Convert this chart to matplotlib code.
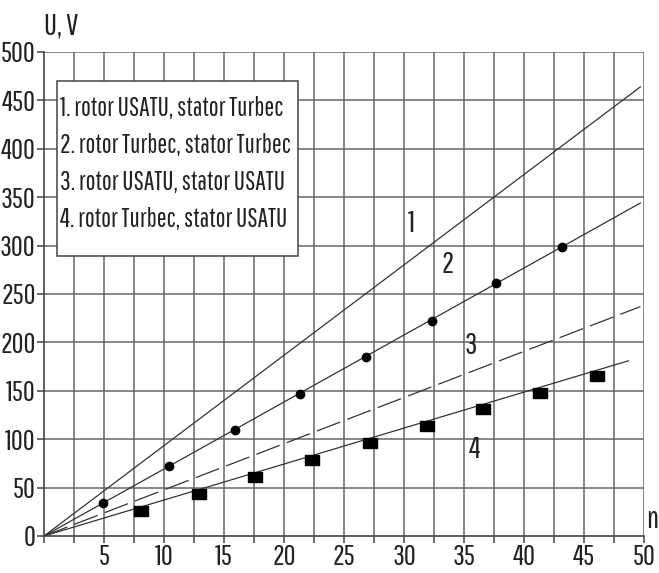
import matplotlib
matplotlib.use("Agg")
import matplotlib.pyplot as plt
from matplotlib.patches import Rectangle
import numpy as np

plt.rcParams['font.family'] = ['Pathway Gothic One', 'Roboto Condensed', 'DejaVu Sans']

# fitted lines (start, end)
line_n = [[0, 49.7], [0, 49.7], [0, 49.7], [0, 48.7]]
line_U = [[0, 464], [0, 344], [0, 237], [0, 181]]
line_names = ["1", "2", "3", "4"]
label_pos = [(30.6, 323), (33.6, 280), (35.6, 197), (35.9, 89)]

# measured points
n2 = [4.9, 10.4, 15.9, 21.3, 26.8, 32.3, 37.7, 43.2]
U2 = [34, 72, 110, 147, 185, 222, 261, 299]
n4 = [8.1, 12.9, 17.6, 22.3, 27.2, 31.9, 36.6, 41.3, 46.1]
U4 = [26, 43, 61, 78, 96, 114, 131, 148, 165]

legend_lines = ["1. rotor USATU, stator Turbec",
                "2. rotor Turbec, stator Turbec",
                "3. rotor USATU, stator USATU",
                "4. rotor Turbec, stator USATU"]

fig = plt.figure(figsize=(6.59, 5.73), dpi=100)
ax = fig.add_axes([44/659, 37/573, 600/659, 484/573])
ax.set_xlim(0, 50)
ax.set_ylim(0, 500)

for x in np.arange(2.5, 50.1, 2.5):
    ax.axvline(x, color='#666666', lw=1.1, zorder=1)
for y in np.arange(50, 501, 50):
    ax.axhline(y, color='#666666', lw=1.1, zorder=1)

for sp in ['top', 'right']:
    ax.spines[sp].set_visible(False)
for sp in ['left', 'bottom']:
    ax.spines[sp].set_color('#444444')
    ax.spines[sp].set_linewidth(1.2)

ax.set_xticks(np.arange(0, 50.1, 2.5))
ax.set_xticklabels(['' if (i % 2 == 1 or i == 0) else str(int(v))
                    for i, v in enumerate(np.arange(0, 50.1, 2.5))])
ax.set_yticks(np.arange(0, 501, 50))
ax.set_yticklabels([str(v) for v in range(0, 501, 50)])
ax.tick_params(axis='both', labelsize=21, color='#444444', length=5,
               width=1.1, labelcolor='#222222')
ax.tick_params(axis='y', pad=1)
ax.tick_params(axis='x', pad=1)

styles = ['-', '-', (0, (20, 6)), '-']
for xs, ys, st in zip(line_n, line_U, styles):
    ax.plot(xs, ys, color='#333333', lw=0.9, linestyle=st, zorder=3)

ax.plot(n2, U2, 'o', color='black', markersize=6, zorder=4)
rect = [(-1.4, -1), (1.4, -1), (1.4, 1), (-1.4, 1), (-1.4, -1)]
ax.plot(n4, U4, linestyle='none', marker=rect, color='black',
        markersize=10, zorder=4)

for name, (x, y) in zip(line_names, label_pos):
    ax.text(x, y, name, fontsize=22, ha='center', va='center', zorder=5,
            color='#222222')

# legend box
ax.add_patch(Rectangle((1.1, 289), 20.1, 181, facecolor='white',
                       edgecolor='#444444', lw=1.1, zorder=6))
ax.text(1.35, 385, "\n".join(legend_lines), fontsize=19, va='center',
        ha='left', linespacing=1.6, zorder=7, color='#222222')

fig.text(44/659, 1 - 26/573, "U, V", fontsize=22, ha='left', va='center',
         color='#222222')
fig.text(652/659, 1 - 520/573, "n", fontsize=22, ha='center', va='center',
         color='#222222')

fig.savefig("out.png", dpi=100)
